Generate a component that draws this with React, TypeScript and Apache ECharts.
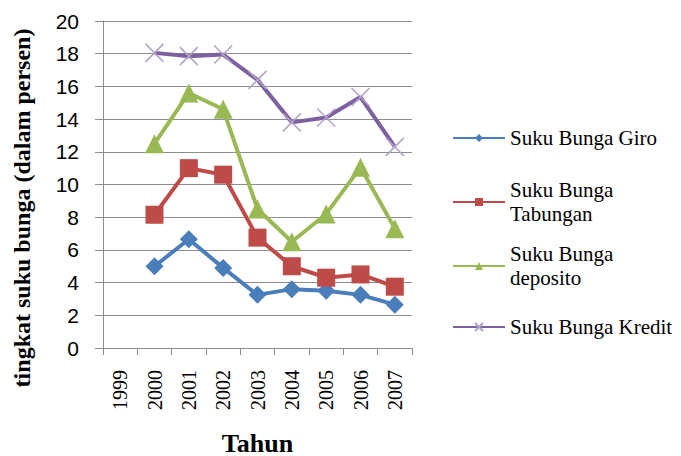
import React, { useEffect, useRef } from "react";
import * as echarts from "echarts";

const years = ["1999", "2000", "2001", "2002", "2003", "2004", "2005", "2006", "2007"];
const giro = [null, 5.0, 6.65, 4.9, 3.25, 3.6, 3.5, 3.25, 2.65];
const tabungan = [null, 8.15, 11.0, 10.6, 6.75, 5.0, 4.3, 4.5, 3.75];
const deposito = [null, 12.5, 15.6, 14.6, 8.5, 6.5, 8.2, 11.05, 7.3];
const kredit = [null, 18.05, 17.85, 17.95, 16.4, 13.8, 14.1, 15.35, 12.3];
const yTicks = { min: 0, max: 20, interval: 2 };

const seriesNames = ["Suku Bunga Giro", "Suku Bunga Tabungan", "Suku Bunga deposito", "Suku Bunga Kredit"];
const legendLabels = ["Suku Bunga Giro", "Suku Bunga\nTabungan", "Suku Bunga\ndeposito", "Suku Bunga Kredit"];

const SERIF = "Liberation Serif";
const SANS = "Liberation Sans";
const xPath = "path://M0,0L10,10M0,10L10,0";

export default function App() {
  const ref = useRef<HTMLDivElement>(null);
  useEffect(() => {
    if (!ref.current) return;
    const chart = echarts.init(ref.current, null, { renderer: "svg" });
    const colors = ["#4a7ebb", "#be4b48", "#98b954", "#7d60a0"];
    const markerColors = ["#4a7ebb", "#be4b48", "#98b954", "#b3a2c7"];
    const symbols = ["diamond", "rect", "triangle", xPath];
    const sizes = [18, 18, 19, 18];
    const dataSets = [giro, tabungan, deposito, kredit];
    const legendTops = [126, 166, 230, 315];

    const legends = seriesNames.map((n, i) => {
      const twoLine = legendLabels[i].includes("\n");
      return {
        data: [n],
        left: 452,
        top: legendTops[i],
        padding: 0,
        itemWidth: 52,
        itemHeight: 10,
        itemGap: 6,
        formatter: () => legendLabels[i],
        lineStyle: { width: 2 },
        textStyle: {
          fontFamily: SERIF,
          fontSize: 21,
          lineHeight: 24,
          color: "#000",
          padding: twoLine ? [24, 0, 0, 0] : 0,
        },
      };
    });

    chart.setOption({
      animation: false,
      backgroundColor: "#fff",
      legend: legends,
      grid: { left: 103, right: 269, top: 21, bottom: 108, containLabel: false, outerBoundsMode: "none" },
      xAxis: {
        type: "category",
        data: years,
        boundaryGap: true,
        axisLine: { lineStyle: { color: "#8c8c8c", width: 1 } },
        axisTick: { show: true, length: 7, lineStyle: { color: "#8c8c8c" } },
        axisLabel: { rotate: 90, margin: 22, fontFamily: SERIF, fontSize: 20, color: "#000" },
        name: "Tahun",
        nameLocation: "middle",
        nameGap: 82,
        nameTextStyle: { fontFamily: SERIF, fontSize: 26, fontWeight: "bold", color: "#000", lineHeight: 26 },
      },
      yAxis: {
        type: "value",
        min: yTicks.min,
        max: yTicks.max,
        interval: yTicks.interval,
        axisLine: { show: true, lineStyle: { color: "#8c8c8c", width: 1 } },
        axisTick: { show: true, length: 8, lineStyle: { color: "#8c8c8c" } },
        axisLabel: { margin: 24, fontFamily: SANS, fontSize: 21, color: "#000" },
        splitLine: { lineStyle: { color: "#8c8c8c", width: 1 } },
      },
      graphic: [
        {
          type: "text",
          x: 22,
          y: 208,
          rotation: Math.PI / 2,
          style: {
            text: "tingkat suku bunga (dalam persen)",
            fontFamily: SERIF,
            fontSize: 24,
            fontWeight: "bold",
            fill: "#000",
            align: "center",
            verticalAlign: "middle",
          },
        },
      ],
      series: seriesNames.map((n, i) => ({
        name: n,
        type: "line",
        data: dataSets[i],
        symbol: symbols[i],
        symbolSize: sizes[i],
        showSymbol: true,
        lineStyle: { color: colors[i], width: 4 },
        itemStyle:
          i === 3
            ? { color: markerColors[i], borderColor: markerColors[i], borderWidth: 1.5 }
            : { color: markerColors[i] },
        z: 2 + i,
      })),
    });
    return () => chart.dispose();
  }, []);
  return <div ref={ref} style={{ width: 681, height: 456, position: "absolute", left: 0, top: 0 }} />;
}
